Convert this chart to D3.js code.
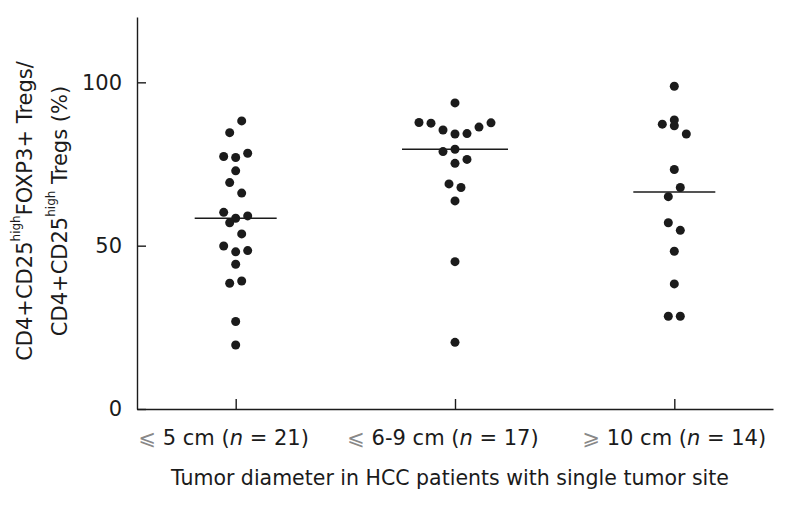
<!DOCTYPE html>
<html>
<head>
<meta charset="utf-8">
<script src="https://cdn.jsdelivr.net/npm/d3@7"></script>
<style>
  html, body { margin: 0; padding: 0; background: #fff; }
  svg { display: block; font-family: "DejaVu Sans", Verdana, sans-serif; }
</style>
</head>
<body>
<svg id="chart" width="787" height="506"></svg>
<script>
// ---- data ----
const categories = ["\u2A7D 5 cm", "\u2A7D 6-9 cm", "\u2A7E 10 cm"];
const group1 = [84.6, 88.2, 77.3, 77.0, 78.3, 72.9, 69.3, 66.1, 60.2, 58.4, 59.1,
                57.0, 53.6, 49.9, 48.1, 48.5, 44.3, 38.5, 39.2, 26.8, 19.6];
const group2 = [93.7, 87.7, 87.5, 85.4, 84.2, 84.3, 86.3, 87.6, 78.8, 79.5, 75.2,
                76.4, 68.9, 67.8, 63.7, 45.1, 20.4];
const group3 = [98.8, 87.2, 88.5, 86.7, 84.2, 73.3, 65.0, 67.8, 57.0, 54.7, 48.3,
                38.3, 28.4, 28.4];
const yTicks = [0, 50, 100];
const yLabelLines = [
  ["CD4+CD25", "high", "FOXP3+ Tregs/"],
  ["CD4+CD25", "high", " Tregs (%)"]
];
const xTitle = "Tumor diameter in HCC patients with single tumor site";

const groups = [group1, group2, group3];

// ---- layout ----
const svg = d3.select("#chart");
const x = d3.scalePoint().domain(categories).range([137, 773]).padding(0.45);
const y = d3.scaleLinear().domain([0, 120]).range([409, 17]);
const ink = "#1b1b1b";
const r = 4.5;
const slot = 12;      // horizontal spacing of dots in a row
const rowPx = 12;     // values closer than this (in px) share a row

// axes
const yAxis = d3.axisLeft(y).tickValues(yTicks).tickSize(-9).tickSizeOuter(0).tickPadding(15);
const gy = svg.append("g").attr("transform", "translate(137,0)").call(yAxis);
gy.selectAll("path, line").attr("stroke", ink).attr("stroke-width", 1.4);
gy.selectAll("text").attr("font-size", 21).attr("fill", ink)
  .attr("font-family", '"DejaVu Sans", Verdana, sans-serif');

const xAxis = d3.axisBottom(x).tickSize(-10).tickSizeOuter(0).tickFormat(() => "");
const gx = svg.append("g").attr("transform", "translate(0,409)").call(xAxis);
gx.selectAll("path, line").attr("stroke", ink).attr("stroke-width", 1.4);

// tick labels with italic n and counts
categories.forEach((c, i) => {
  const shift = c.startsWith("\u2A7D") ? -12 : 0;
  const t = svg.append("text")
    .attr("x", x(c) + shift).attr("y", 445)
    .attr("text-anchor", "middle")
    .attr("font-size", 21).attr("fill", ink);
  t.append("tspan").text(c.slice(0, 1)).attr("fill", "#888");
  t.append("tspan").text(c.slice(1) + " (");
  t.append("tspan").text("n").attr("font-style", "italic");
  t.append("tspan").text(" = " + groups[i].length + ")");
});

// x title
svg.append("text").attr("x", 450).attr("y", 485).attr("text-anchor", "middle")
  .attr("font-size", 20.5).attr("fill", ink).text(xTitle);

// y title (two rotated lines with superscripts)
const yBase = [32, 67];
yLabelLines.forEach((parts, i) => {
  const t = svg.append("text")
    .attr("transform", `translate(${yBase[i]},211) rotate(-90)`)
    .attr("text-anchor", "middle").attr("font-size", 21).attr("fill", ink);
  t.append("tspan").text(parts[0]);
  t.append("tspan").text(parts[1]).attr("font-size", 12).attr("dy", -12);
  t.append("tspan").text(parts[2]).attr("dy", 12);
});

// dot layout: rows of nearby values, dots in a row spread symmetrically
function layout(values) {
  const idx = values.map((v, i) => i).sort((a, b) => values[a] - values[b] || a - b);
  const rows = [];
  let cur = null;
  idx.forEach(i => {
    const py = y(values[i]);
    if (cur && Math.abs(cur.start - py) < rowPx) cur.items.push(i);
    else { cur = { start: py, items: [i] }; rows.push(cur); }
  });
  const off = new Array(values.length).fill(0);
  rows.forEach(row => {
    const items = row.items.slice().sort((a, b) => a - b);
    const n = items.length;
    items.forEach((it, k) => { off[it] = (k - (n - 1) / 2) * slot; });
  });
  return off;
}

groups.forEach((vals, gi) => {
  const cx = x(categories[gi]);
  const off = layout(vals);
  const g = svg.append("g");
  g.selectAll("circle").data(vals).join("circle")
    .attr("cx", (d, i) => cx + off[i])
    .attr("cy", d => y(d))
    .attr("r", r)
    .attr("fill", ink);
  const med = d3.median(vals);
  const half = Math.max(41, d3.max(off.map(Math.abs)) + 17);
  g.append("line")
    .attr("x1", cx - half).attr("x2", cx + half)
    .attr("y1", y(med)).attr("y2", y(med))
    .attr("stroke", ink).attr("stroke-width", 1.5);
});
</script>
</body>
</html>
